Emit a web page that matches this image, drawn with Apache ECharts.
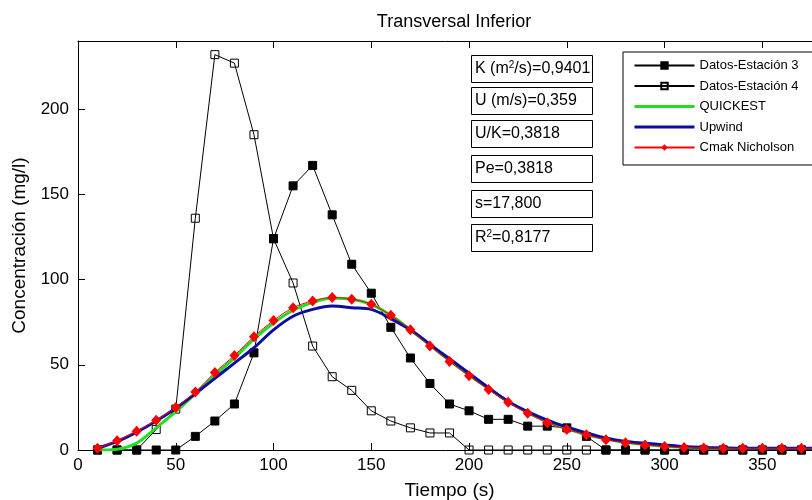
<!DOCTYPE html>
<html>
<head>
<meta charset="utf-8">
<script src="https://cdn.jsdelivr.net/npm/echarts@6/dist/echarts.min.js"></script>
<style>
  html, body { margin: 0; padding: 0; background: #ffffff; }
  #chart { width: 812px; height: 500px; }
</style>
</head>
<body>
<div id="chart"></div>
<script>
// Tiempo de muestreo (s)
const tiempo = [10, 20, 30, 40, 50, 60, 70, 80, 90, 100, 110, 120, 130, 140, 150, 160, 170, 180, 190, 200,
                210, 220, 230, 240, 250, 260, 270, 280, 290, 300, 310, 320, 330, 340, 350, 360, 370, 380];

// Concentraciones medidas (mg/l)
const estacion3 = [0, 0, 0, 0, 0, 8, 17, 27, 57, 124, 155, 167, 138, 109, 92, 72, 54, 39, 27, 23,
                   18, 18, 14, 14, 13, 8, 0, 0, 0, 0, 0, 0, 0, 0, 0, 0, 0, 0];
const estacion4 = [0, 0, 0, 12, 24, 136, 232, 227, 185, 124, 98, 61, 43, 35, 23, 17, 13, 10, 10, 0,
                   0, 0, 0, 0, 0, 0, 0, 0, 0, 0, 0, 0, 0, 0, 0, 0, 0, 0];

// Concentraciones simuladas (mg/l)
const quickest = [0, 0.5, 4, 13, 22.5, 33, 44, 54, 65, 74.5, 82, 86.5, 89, 88.5, 85.5, 79, 70.5, 61.5, 52.5, 44,
                  36, 28.5, 22, 16.5, 12.5, 9, 6.5, 4.5, 3.2, 2.2, 1.6, 1.2, 1, 0.9, 0.9, 0.9, 0.9, 0.9];
const upwind = [1, 5, 10.5, 17, 24.5, 33, 42, 51, 60, 70.5, 78.5, 82.5, 84.5, 83.5, 82.5, 77, 70.5, 62, 53.5, 45,
                36.5, 28.5, 22.5, 17.5, 13.5, 10, 7, 5, 4, 3, 2, 1.5, 1.2, 1, 1, 1, 1, 1];
const cmakNicholson = [1, 5.5, 11, 17.5, 25, 34, 45.5, 55.5, 66.5, 76, 83.5, 87.5, 89.5, 88.5, 85.5, 79, 70.5, 61, 52, 43.5,
                       35.5, 28, 21.5, 16, 12, 9, 6, 4.3, 3, 2, 1.5, 1.2, 1, 1, 1, 1, 1, 1];

// Parámetros del ajuste
const parametros = [
  '{t|K (m}{sup|2}{t|/s)=0,9401}',
  '{t|U (m/s)=0,359}',
  '{t|U/K=0,3818}',
  '{t|Pe=0,3818}',
  '{t|s=17,800}',
  '{t|R}{sup|2}{t|=0,8177}'
];

const FONT = '"Liberation Sans", Arial, Helvetica, sans-serif';
const pares = (vals) => tiempo.map((t, i) => [t, vals[i]]);

const chart = echarts.init(document.getElementById('chart'), null, { renderer: 'canvas' });

const axisBase = {
  axisLine: { show: true, onZero: false, lineStyle: { color: '#000', width: 1 } },
  axisTick: { show: true, inside: true, length: 7, lineStyle: { color: '#000', width: 1 } },
  splitLine: { show: false }
};

// Cuadros de texto con los parámetros
const cajas = [];
const cajaTop = [55, 87, 120, 155, 190, 224];
parametros.forEach((txt, i) => {
  cajas.push({
    type: 'rect',
    shape: { x: 471.5, y: cajaTop[i] + 0.5, width: 121, height: 27 },
    style: { fill: '#fff', stroke: '#000', lineWidth: 1 },
    z: 100
  });
  cajas.push({
    type: 'text',
    x: 475,
    y: cajaTop[i] + 14,
    style: {
      text: txt,
      verticalAlign: 'middle',
      align: 'left',
      rich: {
        t: { fontFamily: FONT, fontSize: 16, fill: '#000', color: '#000' },
        sup: { fontFamily: FONT, fontSize: 10, fill: '#000', color: '#000', verticalAlign: 'top', padding: [0, 0, 8, 0] }
      }
    },
    z: 101
  });
});

chart.setOption({
  backgroundColor: '#ffffff',
  animation: false,
  title: {
    text: 'Transversal Inferior',
    left: 449,
    top: 8,
    textAlign: 'center',
    textStyle: { fontFamily: FONT, fontSize: 18, fontWeight: 'normal', color: '#000' }
  },
  grid: { left: 78, top: 41, right: -9, bottom: 50, containLabel: false, outerBoundsMode: 'none' },
  legend: {
    orient: 'vertical',
    left: 623,
    top: 52,
    itemWidth: 60,
    itemHeight: 8,
    itemGap: 5.5,
    padding: [6, 40, 10, 10],
    borderColor: '#000',
    borderWidth: 1,
    backgroundColor: '#fff',
    textStyle: { fontFamily: FONT, fontSize: 13, color: '#000', lineHeight: 15 },
    data: [
      { name: 'Datos-Estación 3' },
      { name: 'Datos-Estación 4' },
      { name: 'QUICKEST', itemStyle: { opacity: 0 }, lineStyle: { width: 3 } },
      { name: 'Upwind', itemStyle: { opacity: 0 }, lineStyle: { width: 3 } },
      { name: 'Cmak Nicholson' }
    ],
    z: 50
  },
  xAxis: [
    Object.assign({}, axisBase, {
      type: 'value', position: 'bottom', min: 0, max: 380, interval: 50,
      name: 'Tiempo (s)', nameLocation: 'middle', nameGap: 31,
      nameTextStyle: { fontFamily: FONT, fontSize: 19, color: '#000' },
      axisLabel: { showMaxLabel: false, margin: 7, fontFamily: FONT, fontSize: 17, color: '#000' }
    }),
    Object.assign({}, axisBase, {
      type: 'value', position: 'top', min: 0, max: 380, interval: 50,
      axisLabel: { show: false }
    })
  ],
  yAxis: [
    Object.assign({}, axisBase, {
      type: 'value', position: 'left', min: 0, max: 240, interval: 50,
      name: 'Concentración (mg/l)', nameLocation: 'middle', nameGap: 44,
      nameTextStyle: { fontFamily: FONT, fontSize: 19, color: '#000' },
      axisLabel: { showMaxLabel: false, margin: 9, fontFamily: FONT, fontSize: 17, color: '#000' }
    }),
    Object.assign({}, axisBase, {
      type: 'value', position: 'right', min: 0, max: 240, interval: 50,
      axisLabel: { show: false }
    })
  ],
  series: [
    {
      name: 'Datos-Estación 3', type: 'line', data: pares(estacion3),
      symbol: 'rect', symbolSize: 8, showAllSymbol: true,
      lineStyle: { color: '#000', width: 1 },
      itemStyle: { color: '#000', borderColor: '#000', borderWidth: 1 },
      z: 2
    },
    {
      name: 'Datos-Estación 4', type: 'line', data: pares(estacion4),
      symbol: 'rect', symbolSize: 8, showAllSymbol: true,
      lineStyle: { color: '#000', width: 1 },
      itemStyle: { color: 'rgba(255,255,255,0)', borderColor: '#000', borderWidth: 1 },
      z: 3
    },
    {
      name: 'QUICKEST', type: 'line', data: pares(quickest),
      smooth: 0.35, showSymbol: false, symbol: 'none',
      lineStyle: { color: '#22dd22', width: 3 },
      itemStyle: { color: '#22dd22' },
      z: 4
    },
    {
      name: 'Upwind', type: 'line', data: pares(upwind),
      smooth: 0.35, showSymbol: false, symbol: 'none',
      lineStyle: { color: '#0c0ca0', width: 3 },
      itemStyle: { color: '#0c0ca0' },
      z: 5
    },
    {
      name: 'Cmak Nicholson', type: 'line', data: pares(cmakNicholson),
      smooth: 0.35, symbol: 'diamond', symbolSize: [10, 11], showAllSymbol: true,
      lineStyle: { color: '#ff0000', width: 1 },
      itemStyle: { color: '#ff0000' },
      z: 6
    }
  ],
  graphic: cajas
});
</script>
</body>
</html>
